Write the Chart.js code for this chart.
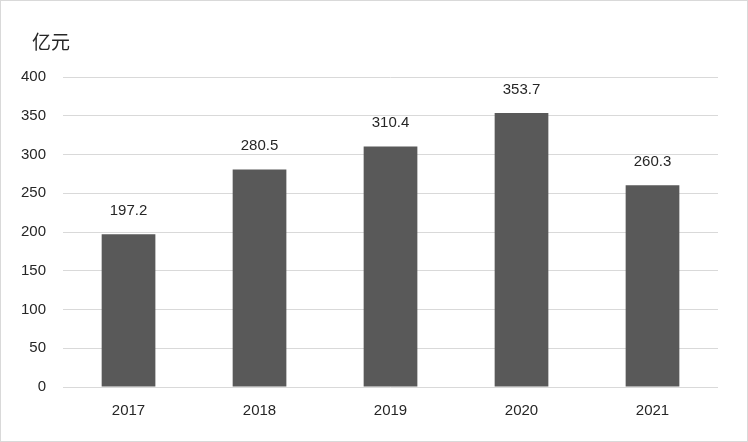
<!DOCTYPE html>
<html>
<head>
<meta charset="utf-8">
<script src="https://cdn.jsdelivr.net/npm/chart.js@4/dist/chart.umd.min.js"></script>
<style>
  html, body { margin: 0; padding: 0; background: #fff; }
  #wrap { width: 748px; height: 442px; box-sizing: border-box; border: 1px solid #d9d9d9; position: relative; }
  canvas { display: block; }
</style>
</head>
<body>
<div id="wrap"><canvas id="chart" width="746" height="440"></canvas></div>
<script>
// --- DATA ---
const years = ['2017', '2018', '2019', '2020', '2021'];
const revenue = [197.2, 280.5, 310.4, 353.7, 260.3];
const unitLabel = '亿元';

const textColor = '#262626';
const fontFamily = '"Liberation Sans", "Noto Sans CJK SC", sans-serif';

// unit text in the top-left corner + value above each bar
const extraText = {
    id: 'extraText',
    afterDatasetsDraw(chart) {
        const ctx = chart.ctx;
        const meta = chart.getDatasetMeta(0);
        ctx.save();
        ctx.fillStyle = textColor;
        ctx.textAlign = 'left';
        ctx.textBaseline = 'middle';
        ctx.font = '19px "Noto Sans CJK SC", sans-serif';
        ctx.fillText(unitLabel, 31, 41);

        ctx.font = '15px ' + fontFamily;
        ctx.textAlign = 'center';
        ctx.textBaseline = 'bottom';
        meta.data.forEach((bar, i) => {
            ctx.fillText(revenue[i].toFixed(1), bar.x, bar.y - 16);
        });
        ctx.restore();
    }
};

new Chart(document.getElementById('chart'), {
    type: 'bar',
    data: {
        labels: years,
        datasets: [{
            data: revenue,
            backgroundColor: '#595959',
            categoryPercentage: 1,
            barPercentage: 0.41
        }]
    },
    options: {
        responsive: false,
        animation: false,
        layout: { padding: { left: 3, right: 29, top: 76, bottom: 14 } },
        plugins: {
            legend: { display: false },
            tooltip: { enabled: false },
            title: { display: false }
        },
        scales: {
            x: {
                grid: { display: false },
                border: { display: false },
                ticks: { color: textColor, font: { family: fontFamily, size: 15 }, padding: 7 }
            },
            y: {
                min: 0,
                max: 400,
                border: { display: false },
                grid: { color: '#d9d9d9', drawTicks: false },
                ticks: { stepSize: 50, color: textColor, font: { family: fontFamily, size: 15 }, padding: 17 }
            }
        }
    },
    plugins: [extraText]
});
</script>
</body>
</html>
